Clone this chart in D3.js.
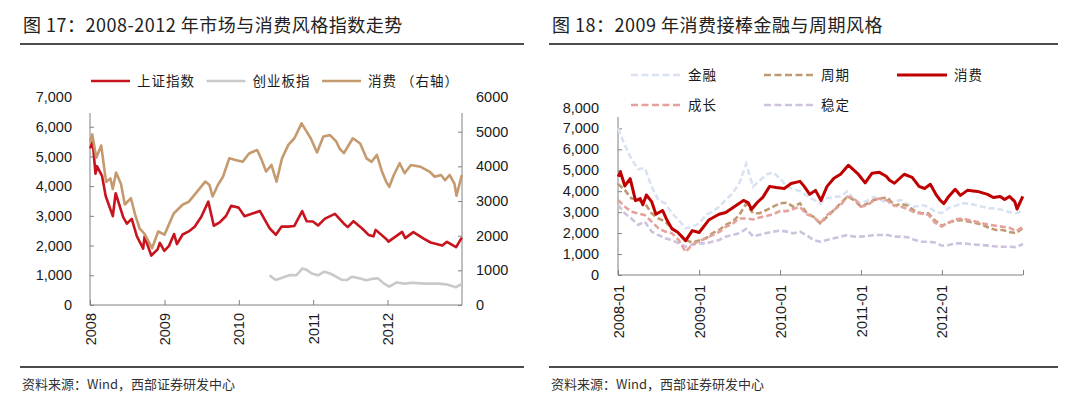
<!DOCTYPE html>
<html>
<head>
<meta charset="utf-8">
<script src="https://cdn.jsdelivr.net/npm/d3@7"></script>
<style>
  body { margin: 0; background: #fff; }
  svg { display: block; font-family: "Liberation Sans", Arial, sans-serif; }
  .cjk { font-family: "Noto Sans CJK SC", "Noto Sans", sans-serif; }
</style>
</head>
<body>
<svg id="chart" width="1080" height="401"></svg>
<script>
// ---- data: left chart (图17) ----
const shIndex = [
  ["2008-01-02", 5272], ["2008-01-14", 5497], ["2008-01-28", 4419], ["2008-02-04", 4672],
  ["2008-02-29", 4348], ["2008-03-18", 3668], ["2008-04-22", 2990], ["2008-05-06", 3761],
  ["2008-06-12", 2956], ["2008-06-30", 2736], ["2008-07-24", 2900], ["2008-08-18", 2319],
  ["2008-09-18", 1895], ["2008-09-25", 2300], ["2008-10-28", 1664], ["2008-11-28", 1871],
  ["2008-12-09", 2090], ["2008-12-31", 1821], ["2009-01-23", 1990], ["2009-02-17", 2389],
  ["2009-03-03", 2049], ["2009-03-31", 2373], ["2009-04-30", 2477], ["2009-05-29", 2633],
  ["2009-06-30", 2959], ["2009-08-04", 3478], ["2009-08-31", 2667], ["2009-09-29", 2779],
  ["2009-10-30", 2996], ["2009-11-24", 3338], ["2009-12-31", 3277], ["2010-01-29", 2989],
  ["2010-02-26", 3051], ["2010-04-14", 3166], ["2010-05-31", 2592], ["2010-07-02", 2363],
  ["2010-07-30", 2638], ["2010-08-31", 2639], ["2010-09-30", 2656], ["2010-11-08", 3159],
  ["2010-11-30", 2820], ["2010-12-31", 2808], ["2011-01-25", 2677], ["2011-02-28", 2905],
  ["2011-04-18", 3067], ["2011-05-31", 2743], ["2011-06-20", 2621], ["2011-07-18", 2820],
  ["2011-08-31", 2567], ["2011-09-30", 2359], ["2011-10-24", 2310], ["2011-11-04", 2528],
  ["2011-12-30", 2199], ["2012-01-06", 2132], ["2012-03-13", 2460], ["2012-03-28", 2252],
  ["2012-05-07", 2451], ["2012-06-29", 2225], ["2012-07-31", 2103], ["2012-09-26", 1999],
  ["2012-10-19", 2128], ["2012-12-03", 1949], ["2012-12-31", 2269]
];

const gemIndex = [
  ["2010-06-01", 1000], ["2010-06-25", 870], ["2010-07-05", 850], ["2010-08-15", 950],
  ["2010-09-10", 1010], ["2010-10-10", 1000], ["2010-11-10", 1230], ["2010-12-01", 1180],
  ["2010-12-25", 1060], ["2011-01-25", 1000], ["2011-02-25", 1120], ["2011-03-25", 1060],
  ["2011-04-25", 950], ["2011-05-20", 850], ["2011-06-15", 840], ["2011-07-10", 950],
  ["2011-08-15", 900], ["2011-09-20", 830], ["2011-10-20", 880], ["2011-11-15", 900],
  ["2011-12-15", 720], ["2012-01-10", 620], ["2012-02-15", 760], ["2012-03-25", 720],
  ["2012-05-01", 750], ["2012-07-01", 720], ["2012-09-10", 720], ["2012-10-20", 690],
  ["2012-12-03", 600], ["2012-12-31", 710]
];

// 消费 (left chart right axis, and right chart)
const consumer = [
  ["2008-01-02", 4700], ["2008-01-12", 4920], ["2008-02-01", 4250], ["2008-02-25", 4600],
  ["2008-03-20", 3550], ["2008-04-10", 3650], ["2008-04-22", 3350], ["2008-05-08", 3820],
  ["2008-06-01", 3500], ["2008-06-20", 2900], ["2008-07-20", 3080], ["2008-08-10", 2600],
  ["2008-09-01", 2200], ["2008-09-25", 2050], ["2008-11-01", 1640], ["2008-12-01", 2120],
  ["2009-01-01", 2030], ["2009-02-15", 2640], ["2009-04-01", 2900], ["2009-05-01", 2980],
  ["2009-06-10", 3270], ["2009-07-20", 3560], ["2009-08-10", 3460], ["2009-08-25", 3130],
  ["2009-09-20", 3460], ["2009-10-15", 3700], ["2009-11-15", 4230], ["2009-12-15", 4180],
  ["2010-01-20", 4130], ["2010-02-20", 4370], ["2010-04-01", 4470], ["2010-04-20", 4230],
  ["2010-05-15", 3850], ["2010-06-10", 4040], ["2010-07-05", 3560], ["2010-08-01", 4230],
  ["2010-09-01", 4620], ["2010-10-01", 4810], ["2010-11-05", 5240], ["2010-11-25", 5050],
  ["2010-12-20", 4810], ["2011-01-20", 4400], ["2011-02-20", 4860], ["2011-03-25", 4900],
  ["2011-04-25", 4710], ["2011-05-10", 4520], ["2011-06-01", 4380], ["2011-07-15", 4810],
  ["2011-08-20", 4660], ["2011-09-20", 4230], ["2011-10-15", 4130], ["2011-11-10", 4330],
  ["2011-12-05", 3850], ["2011-12-25", 3560], ["2012-01-10", 3410], ["2012-02-01", 3750],
  ["2012-03-01", 4090], ["2012-03-25", 3800], ["2012-04-25", 4040], ["2012-06-10", 3990],
  ["2012-07-25", 3850], ["2012-08-20", 3700], ["2012-09-20", 3750], ["2012-10-10", 3600],
  ["2012-11-01", 3750], ["2012-11-25", 3500], ["2012-12-05", 3150], ["2012-12-31", 3750]
];

const leftTicks = [0, 1000, 2000, 3000, 4000, 5000, 6000, 7000];
const rightTicks = [0, 1000, 2000, 3000, 4000, 5000, 6000];
const yearTicks = ["2008-01-01", "2009-01-01", "2010-01-01", "2011-01-01", "2012-01-01"];
const yearLabels = ["2008", "2009", "2010", "2011", "2012"];

// ---- data: right chart (图18), monthly from 2008-01 to 2013-01 ----
const finance = [7000, 6200, 5550, 5050, 5100, 4220, 3580, 3420, 2940, 2620, 2230, 2300,
  2460, 2870, 3020, 3260, 3580, 3900, 4380, 5300, 4220, 4500, 4800, 4900,
  4600, 4220, 4100, 4000, 3800, 3600, 3420, 3660, 3740, 3740, 4000, 3600,
  3420, 3560, 3720, 3580, 3420, 3500, 3580, 3360, 3260, 3340, 3260, 3030,
  2950, 3200, 3300, 3420, 3420, 3340, 3260, 3180, 3180, 3100, 3000, 2950, 3100];
const cyclical = [4350, 4050, 3660, 3580, 3420, 2940, 2700, 2550, 2230, 1990, 1670, 1550,
  1650, 1750, 1990, 2150, 2390, 2550, 2860, 3400, 2950, 2950, 3100, 3260,
  3420, 3450, 3260, 3420, 2950, 2780, 2470, 2780, 3100, 3420, 3740, 3580,
  3260, 3420, 3580, 3660, 3700, 3300, 3400, 3300, 3050, 2950, 2950, 2600,
  2350, 2500, 2600, 2620, 2550, 2480, 2400, 2250, 2150, 2150, 2050, 2000, 2250];
const growth = [3580, 3260, 3020, 2940, 2860, 2550, 2230, 2070, 1990, 1670, 1100, 1450,
  1620, 1750, 1900, 2050, 2300, 2450, 2700, 2700, 2650, 2750, 2820, 2900,
  3050, 3050, 3150, 3250, 2900, 2780, 2470, 2860, 3100, 3340, 3740, 3660,
  3260, 3340, 3580, 3660, 3550, 3300, 3260, 3150, 2980, 2940, 2880, 2500,
  2320, 2500, 2650, 2700, 2630, 2550, 2470, 2400, 2350, 2300, 2250, 2100, 2300];
const stable = [3340, 2940, 2700, 2390, 2550, 2070, 1910, 1750, 1670, 1510, 1350, 1450,
  1510, 1510, 1590, 1670, 1830, 1910, 1990, 2200, 1850, 1920, 2000, 2070,
  2120, 2070, 1990, 2070, 1900, 1670, 1590, 1670, 1750, 1830, 1910, 1830,
  1830, 1860, 1910, 1910, 1910, 1830, 1830, 1800, 1670, 1590, 1590, 1550,
  1400, 1430, 1510, 1510, 1480, 1450, 1430, 1400, 1360, 1350, 1350, 1330, 1480];

const styleTicks = [0, 1000, 2000, 3000, 4000, 5000, 6000, 7000, 8000];
const monthLabels = ["2008-01", "2009-01", "2010-01", "2011-01", "2012-01"];

// ---- setup ----
const parse = d3.timeParse("%Y-%m-%d");
const months = d3.timeMonth.range(new Date(2008, 0, 1), new Date(2013, 0, 2));
const svg = d3.select("#chart");
const axisColor = "#808080";
const textColor = "#1a1a1a";

function header(x0, x1, title) {
  svg.append("text").attr("class", "cjk")
    .attr("x", x0 + 3).attr("y", 32)
    .attr("font-size", 18).attr("fill", "#222").attr("letter-spacing", 0.5)
    .text(title);
  svg.append("line").attr("x1", x0).attr("x2", x1).attr("y1", 44).attr("y2", 44)
    .attr("stroke", "#111").attr("stroke-width", 1.5);
  svg.append("line").attr("x1", x0).attr("x2", x1).attr("y1", 367).attr("y2", 367)
    .attr("stroke", "#111").attr("stroke-width", 1.5);
  svg.append("text").attr("class", "cjk")
    .attr("x", x0 + 2).attr("y", 389)
    .attr("font-size", 13).attr("fill", "#333")
    .text("资料来源：Wind，西部证券研发中心");
}

function styleAxis(g) {
  g.select(".domain").remove();
  g.selectAll(".tick line").attr("stroke", axisColor);
  g.selectAll(".tick text").attr("fill", textColor).attr("font-size", 14.5)
    .attr("font-family", "'Liberation Sans', Arial, sans-serif");
}

function vline(x, y0, y1) {
  svg.append("line").attr("x1", x).attr("x2", x).attr("y1", y0).attr("y2", y1)
    .attr("stroke", axisColor).attr("stroke-width", 1);
}
function hline(x0, x1, y) {
  svg.append("line").attr("x1", x0).attr("x2", x1).attr("y1", y).attr("y2", y)
    .attr("stroke", axisColor).attr("stroke-width", 1);
}

// ---- left chart ----
header(20, 524, "图 17：2008-2012 年市场与消费风格指数走势");

const x1 = d3.scaleTime().domain([new Date(2008, 0, 1), new Date(2013, 0, 1)]).range([90, 462]);
const yL = d3.scaleLinear().domain([0, 7000]).range([305, 97]);
const yR = d3.scaleLinear().domain([0, 6000]).range([305, 97]);

svg.append("g").attr("transform", "translate(90,0)")
  .call(d3.axisLeft(yL).tickValues(leftTicks).tickSize(-4).tickPadding(18).tickFormat(d3.format(",")))
  .call(styleAxis)
  .call(g => g.selectAll(".tick line").filter(d => d === 7000).remove());

svg.append("g").attr("transform", "translate(462,0)")
  .call(d3.axisRight(yR).tickValues(rightTicks).tickSize(-4).tickPadding(14).tickFormat(d3.format("d")))
  .call(styleAxis)
  .call(g => g.selectAll(".tick line").filter(d => d === 6000).remove());

svg.append("g").attr("transform", "translate(0,305)")
  .call(d3.axisBottom(x1).tickValues(yearTicks.map(parse)).tickSize(-5)
    .tickFormat((d, i) => yearLabels[i]))
  .call(styleAxis)
  .call(g => g.selectAll(".tick text")
    .attr("transform", "rotate(-90)").attr("text-anchor", "end")
    .attr("x", -8).attr("y", 0).attr("dy", "0.35em"));

vline(90, 113, 305);
vline(462, 113, 305);
hline(90, 462, 305);

const leftSeries = [
  { name: "上证指数", data: shIndex, y: yL, color: "#c8141e" },
  { name: "创业板指", data: gemIndex, y: yL, color: "#c9c9c9" },
  { name: "消费 （右轴）", data: consumer, y: yR, color: "#c49a6e" }
];

leftSeries.forEach(s => {
  const line = d3.line().x(d => x1(parse(d[0]))).y(d => s.y(d[1]));
  svg.append("path").datum(s.data)
    .attr("d", line).attr("fill", "none")
    .attr("stroke", s.color).attr("stroke-width", 2.6).attr("stroke-linejoin", "round");
});

const legL = svg.append("g").selectAll("g").data(leftSeries).join("g")
  .attr("transform", (d, i) => `translate(${91 + i * 115.5},81)`);
legL.append("line").attr("x1", 0).attr("x2", 39)
  .attr("stroke", d => d.color).attr("stroke-width", 2.6);
legL.append("text").attr("class", "cjk").attr("x", 46).attr("dy", "0.35em")
  .attr("font-size", 13.5).attr("letter-spacing", 1).attr("fill", textColor)
  .text(d => d.name);

// ---- right chart ----
header(549, 1058, "图 18：2009 年消费接棒金融与周期风格");

const x2 = d3.scaleTime().domain([new Date(2008, 0, 1), new Date(2013, 0, 1)]).range([618, 1023]);
const y2 = d3.scaleLinear().domain([0, 8000]).range([275, 107.4]);

svg.append("g").attr("transform", "translate(618,0)")
  .call(d3.axisLeft(y2).tickValues(styleTicks).tickSize(-4).tickPadding(19).tickFormat(d3.format(",")))
  .call(styleAxis)
  .call(g => g.selectAll(".tick line").filter(d => d === 8000).remove());

svg.append("g").attr("transform", "translate(0,275)")
  .call(d3.axisBottom(x2).tickValues(yearTicks.map(parse).concat([new Date(2013, 0, 1)])).tickSize(-5)
    .tickFormat((d, i) => monthLabels[i] || ""))
  .call(styleAxis)
  .call(g => g.selectAll(".tick text")
    .attr("transform", "rotate(-90)").attr("text-anchor", "end")
    .attr("x", -10).attr("y", 0).attr("dy", "0.35em"));

vline(618, 117, 275);
hline(618, 1023, 275);

const rightSeries = [
  { name: "金融", values: finance, color: "#d9e2f3", dash: "6,3", col: 0, row: 0 },
  { name: "周期", values: cyclical, color: "#bf9a70", dash: "6,3", col: 1, row: 0 },
  { name: "消费", values: null, color: "#c00000", dash: null, col: 2, row: 0 },
  { name: "成长", values: growth, color: "#e6a19b", dash: "6,3", col: 0, row: 1 },
  { name: "稳定", values: stable, color: "#cdc3df", dash: "6,3", col: 1, row: 1 }
];

const monthLine = d3.line().x((d, i) => x2(months[i])).y(d => y2(d));
const drawOrder = ["金融", "稳定", "周期", "成长"];
drawOrder.forEach(n => {
  const s = rightSeries.find(r => r.name === n);
  svg.append("path").datum(s.values)
    .attr("d", monthLine).attr("fill", "none")
    .attr("stroke", s.color).attr("stroke-width", 2.6)
    .attr("stroke-dasharray", s.dash);
});
svg.append("path").datum(consumer)
  .attr("d", d3.line().x(d => x2(parse(d[0]))).y(d => y2(d[1])))
  .attr("fill", "none").attr("stroke", "#c00000").attr("stroke-width", 3)
  .attr("stroke-linejoin", "round");

const legR = svg.append("g").selectAll("g").data(rightSeries).join("g")
  .attr("transform", d => `translate(${631 + d.col * 133},${75 + d.row * 30})`);
legR.append("line").attr("x1", 0).attr("x2", 50)
  .attr("stroke", d => d.color).attr("stroke-width", d => d.dash ? 2.6 : 3)
  .attr("stroke-dasharray", d => d.dash ? "7,3.5" : null);
legR.append("text").attr("class", "cjk").attr("x", 57).attr("dy", "0.35em")
  .attr("font-size", 13.5).attr("letter-spacing", 1).attr("fill", textColor)
  .text(d => d.name);
</script>
</body>
</html>
